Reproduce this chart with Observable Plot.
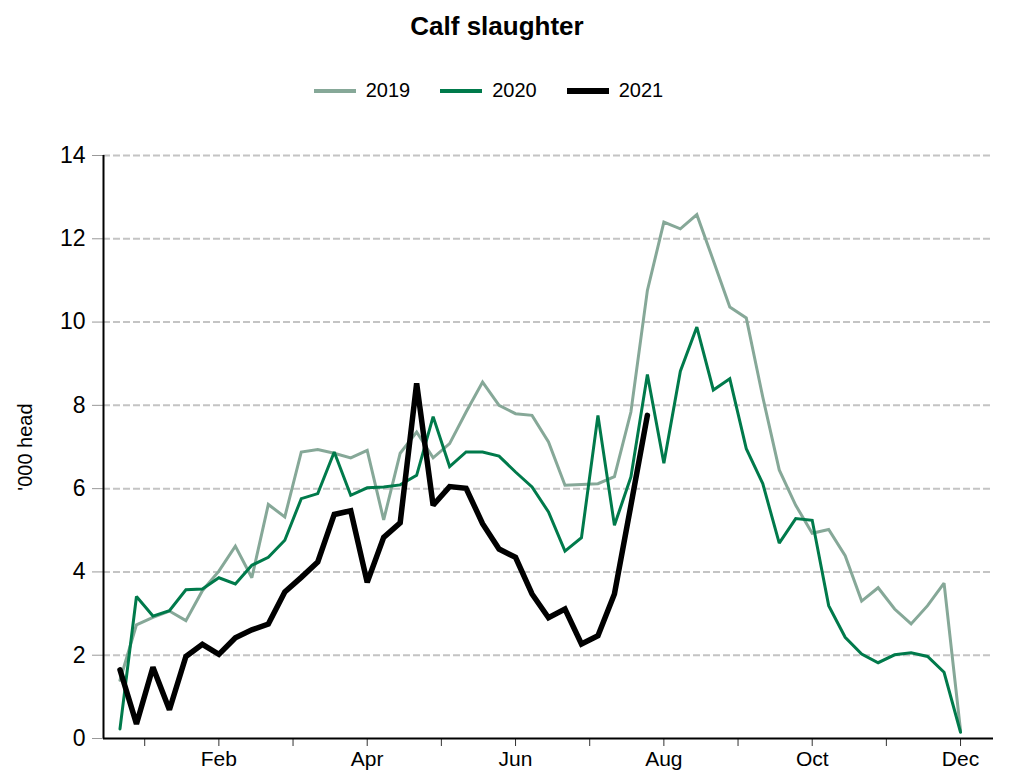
<!DOCTYPE html>
<html>
<head>
<meta charset="utf-8">
<script src="https://cdn.jsdelivr.net/npm/d3@7"></script>
<script src="https://cdn.jsdelivr.net/npm/@observablehq/plot@0.6"></script>
<style>
  html, body { margin: 0; padding: 0; background: #fff; }
  body { width: 1012px; height: 777px; overflow: hidden; font-family: "Liberation Sans", Arial, sans-serif; color: #000; }
  #header { position: relative; height: 120px; }
  #title { position: absolute; top: 11px; left: 0; width: 994px; text-align: center; font-weight: bold; font-size: 26px; }
  #legend { position: absolute; top: 79px; left: 0; width: 977px; display: flex; justify-content: center; gap: 30px; font-size: 20px; }
  .item { display: flex; align-items: center; gap: 10px; }
  .sw { display: inline-block; width: 42px; }
</style>
</head>
<body>
<div id="header">
  <div id="title">Calf slaughter</div>
  <div id="legend"></div>
</div>
<div id="chart"></div>
<script>
// Weekly calf slaughter ('000 head), week 1..52
const years = ["2019", "2020", "2021"];
const values2019 = [1.40, 2.73, 2.91, 3.06, 2.83, 3.55, 4.02, 4.62, 3.86, 5.62,
  5.32, 6.88, 6.94, 6.85, 6.74, 6.92, 5.25, 6.85, 7.36, 6.74,
  7.08, 7.84, 8.56, 8.00, 7.80, 7.76, 7.12, 6.08, 6.10, 6.12,
  6.29, 7.84, 10.76, 12.40, 12.24, 12.58, 11.48, 10.36, 10.10, 8.20,
  6.45, 5.60, 4.93, 5.02, 4.39, 3.30, 3.62, 3.11, 2.75, 3.19,
  3.73, 0.19];
const values2020 = [0.23, 3.41, 2.94, 3.07, 3.57, 3.59, 3.86, 3.71, 4.16, 4.35,
  4.76, 5.76, 5.88, 6.88, 5.84, 6.02, 6.04, 6.09, 6.32, 7.73,
  6.53, 6.88, 6.88, 6.78, 6.40, 6.04, 5.44, 4.50, 4.82, 7.76,
  5.12, 6.28, 8.74, 6.61, 8.82, 9.88, 8.37, 8.64, 6.96, 6.12,
  4.69, 5.28, 5.24, 3.19, 2.43, 2.03, 1.82, 2.01, 2.06, 1.97,
  1.59, 0.15];
const values2021 = [1.65, 0.35, 1.71, 0.69, 1.97, 2.26, 2.02, 2.42, 2.61, 2.75,
  3.52, 3.87, 4.24, 5.38, 5.47, 3.75, 4.83, 5.18, 8.53, 5.60,
  6.05, 6.01, 5.16, 4.55, 4.35, 3.47, 2.90, 3.11, 2.27, 2.47,
  3.47, 5.60, 7.76];
const monthTicks = [2.5, 7, 11.5, 16, 20.5, 25, 29.5, 34, 38.5, 43, 47.5, 52];
const monthLabels = ["", "Feb", "", "Apr", "", "Jun", "", "Aug", "", "Oct", "", "Dec"];
const yTicks = [0, 2, 4, 6, 8, 10, 12, 14];

const colors = {"2019": "#86a898", "2020": "#007a4b", "2021": "#000000"};
const widths = {"2019": 3, "2020": 3, "2021": 5.5};
const legendWidths = {"2019": 4, "2020": 4, "2021": 6};

const seriesValues = {"2019": values2019, "2020": values2020, "2021": values2021};
const rows = years.flatMap(y => seriesValues[y].map((v, i) => ({year: y, week: i + 1, value: v})));
const labelMap = new Map(monthTicks.map((t, i) => [t, monthLabels[i]]));

// Legend
const legend = document.getElementById("legend");
for (const y of years) {
  const it = document.createElement("div");
  it.className = "item";
  const sw = document.createElement("span");
  sw.className = "sw";
  sw.style.height = legendWidths[y] + "px";
  sw.style.background = colors[y];
  const tx = document.createElement("span");
  tx.textContent = y;
  it.appendChild(sw); it.appendChild(tx);
  legend.appendChild(it);
}

const chart = Plot.plot({
  width: 1012,
  height: 657,
  marginTop: 35,
  marginBottom: 39,
  marginLeft: 103,
  marginRight: 19,
  style: {fontFamily: '"Liberation Sans", Arial, sans-serif', color: "#000", background: "#fff"},
  x: {domain: [0, 54], axis: null},
  y: {domain: [0, 14], axis: null},
  marks: [
    Plot.gridY(yTicks.filter(d => d > 0), {stroke: "#c4c4c4", strokeOpacity: 1, strokeWidth: 2, strokeDasharray: "7,3"}),
    Plot.axisY({ticks: yTicks, tickSize: 11, tickPadding: 7, fontSize: 23, stroke: "#999", label: null}),
    Plot.axisX({ticks: monthTicks, tickSize: 8, tickPadding: 5, fontSize: 21, stroke: "#333", tickFormat: d => labelMap.get(d), label: null}),
    Plot.text(["'000 head"], {frameAnchor: "left", dx: -78, rotate: -90, textAnchor: "middle", fontSize: 20, fill: "#000"}),
    Plot.ruleX([0], {stroke: "#000", strokeWidth: 2}),
    Plot.ruleY([0], {x1: 0, x2: 54, stroke: "#000", strokeWidth: 2}),
    ...years.map(y => Plot.line(rows.filter(d => d.year === y), {
      x: "week", y: "value", stroke: colors[y], strokeWidth: widths[y], strokeLinejoin: "miter", strokeMiterlimit: 2
    }))
  ]
});
document.getElementById("chart").appendChild(chart);
</script>
</body>
</html>
